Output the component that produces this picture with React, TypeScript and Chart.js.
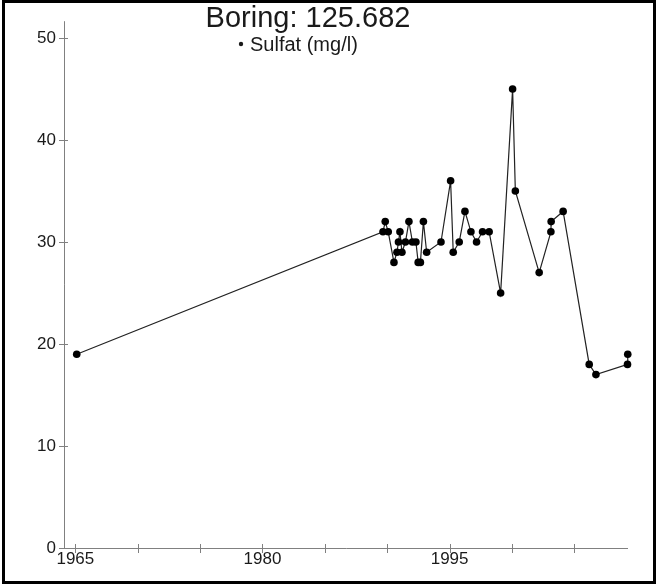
import React, { useEffect, useRef } from "react";
import { Chart, registerables } from "chart.js";

Chart.register(...registerables);

// Sulfate samples for borehole 125.682 (decimal year, mg/l)
const sampleYears: number[] = [
  1965.11, 1989.66, 1989.84, 1990.08, 1990.54, 1990.78, 1990.9, 1991.02,
  1991.18, 1991.46, 1991.74, 1992.02, 1992.3, 1992.48, 1992.66, 1992.9,
  1993.16, 1994.31, 1995.08, 1995.29, 1995.77, 1996.23, 1996.71, 1997.16,
  1997.64, 1998.17, 1999.09, 2000.05, 2000.27, 2002.18, 2003.12, 2003.14,
  2004.1, 2006.19, 2006.73, 2009.26, 2009.28,
];
const sulfatValues: number[] = [
  19, 31, 32, 31, 28, 29, 30, 31, 29, 30, 32, 30, 30, 28, 28, 32, 29, 30, 36,
  29, 30, 33, 31, 30, 31, 31, 25, 45, 35, 27, 31, 32, 33, 18, 17, 18, 19,
];

const xTickValues: number[] = [1965, 1970, 1975, 1980, 1985, 1990, 1995, 2000, 2005];
const xTickLabels: string[] = ["1965", "", "", "1980", "", "", "1995", "", ""];
const yTickValues: number[] = [0, 10, 20, 30, 40, 50];

const chartTitle = "Boring: 125.682";
const seriesLabel = "Sulfat (mg/l)";

const FONT = "'Liberation Sans', Arial, sans-serif";
const AXIS_COLOR = "#808080";
const TEXT_COLOR = "#1a1a1a";

// Tick marks that cross the axis line on both sides
const crossTicks = {
  id: "crossTicks",
  afterDraw(chart: any) {
    const { ctx, chartArea, scales } = chart;
    const x = scales.x;
    const y = scales.y;
    ctx.save();
    ctx.strokeStyle = AXIS_COLOR;
    ctx.lineWidth = 1;
    ctx.beginPath();
    // axis lines
    ctx.moveTo(chartArea.left + 0.5, chartArea.top);
    ctx.lineTo(chartArea.left + 0.5, chartArea.bottom + 0.5);
    ctx.lineTo(chartArea.right, chartArea.bottom + 0.5);
    for (const v of xTickValues) {
      const px = Math.round(x.getPixelForValue(v)) + 0.5;
      ctx.moveTo(px, chartArea.bottom - 4);
      ctx.lineTo(px, chartArea.bottom + 5);
    }
    for (const v of yTickValues) {
      const py = Math.round(y.getPixelForValue(v)) + 0.5;
      ctx.moveTo(chartArea.left - 5, py);
      ctx.lineTo(chartArea.left + 4, py);
    }
    ctx.stroke();
    ctx.restore();
  },
};

// Title and legend drawn over the top of the plot
const headerBlock = {
  id: "headerBlock",
  afterDraw(chart: any) {
    const { ctx } = chart;
    ctx.save();
    ctx.fillStyle = TEXT_COLOR;
    ctx.textBaseline = "alphabetic";
    ctx.textAlign = "center";
    ctx.font = `29px ${FONT}`;
    ctx.fillText(chartTitle, 303, 24);
    ctx.textAlign = "left";
    ctx.font = `20px ${FONT}`;
    ctx.fillText(seriesLabel, 245, 48);
    ctx.beginPath();
    ctx.arc(236, 41, 2.2, 0, Math.PI * 2);
    ctx.fill();
    ctx.restore();
  },
};

export default function App() {
  const canvasRef = useRef<HTMLCanvasElement | null>(null);

  useEffect(() => {
    if (!canvasRef.current) return;
    const chart = new Chart(canvasRef.current, {
      type: "scatter",
      data: {
        datasets: [
          {
            label: seriesLabel,
            data: sampleYears.map((yr, i) => ({ x: yr, y: sulfatValues[i] })),
            showLine: true,
            borderColor: "#222222",
            borderWidth: 1.2,
            backgroundColor: "#000000",
            pointBackgroundColor: "#000000",
            pointBorderColor: "#000000",
            pointBorderWidth: 0,
            pointRadius: 3.8,
            clip: false,
          },
        ],
      },
      options: {
        animation: false,
        responsive: false,
        maintainAspectRatio: false,
        layout: { padding: { top: 12, right: 25, left: 0, bottom: 0 } },
        plugins: {
          legend: { display: false },
          title: { display: false },
          tooltip: { enabled: false },
        },
        scales: {
          x: {
            type: "linear",
            min: 1964.09,
            max: 2009.3,
            border: { display: false },
            grid: { display: false, drawTicks: false },
            afterBuildTicks: (scale: any) => {
              scale.ticks = xTickValues.map((v) => ({ value: v }));
            },
            afterFit: (scale: any) => {
              scale.height = 33;
            },
            ticks: {
              autoSkip: false,
              maxRotation: 0,
              padding: 1,
              color: TEXT_COLOR,
              font: { family: FONT, size: 17 },
              callback: (v: any) => {
                const i = xTickValues.indexOf(Number(v));
                return i >= 0 ? xTickLabels[i] : "";
              },
            },
          },
          y: {
            type: "linear",
            min: 0,
            max: 51.65,
            border: { display: false },
            grid: { display: false, drawTicks: false },
            afterBuildTicks: (scale: any) => {
              scale.ticks = yTickValues.map((v) => ({ value: v }));
            },
            afterFit: (scale: any) => {
              scale.width = 59;
            },
            ticks: {
              padding: 8,
              color: TEXT_COLOR,
              font: { family: FONT, size: 17 },
              callback: (v: any) => String(v),
            },
          },
        },
      },
      plugins: [crossTicks, headerBlock],
    });
    return () => chart.destroy();
  }, []);

  return (
    <div
      style={{
        position: "absolute",
        left: 2,
        top: 0,
        width: 654,
        height: 584,
        boxSizing: "border-box",
        border: "3px solid #000",
        background: "#fff",
      }}
    >
      <canvas ref={canvasRef} width={648} height={578} style={{ display: "block" }} />
    </div>
  );
}
